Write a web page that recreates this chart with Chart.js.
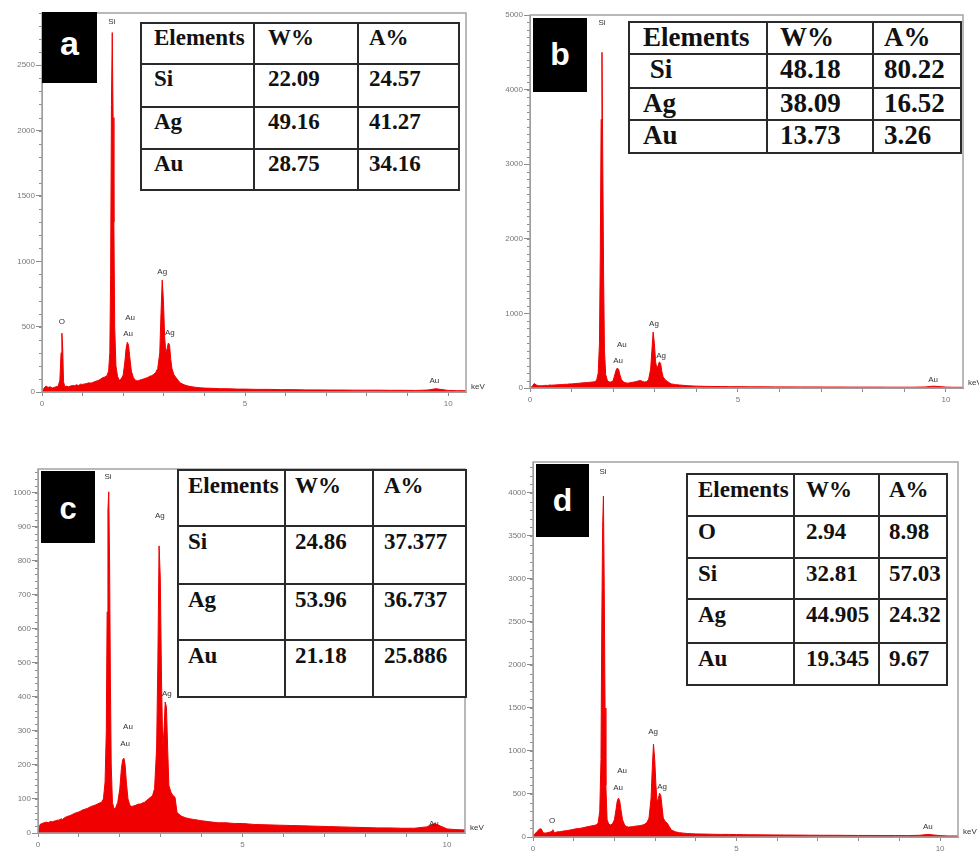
<!DOCTYPE html>
<html>
<head>
<meta charset="utf-8">
<script src="https://cdn.jsdelivr.net/npm/chart.js@4.4.0/dist/chart.umd.min.js"></script>
<style>
  body { margin: 0; background: #fff; }
  #page { position: relative; width: 979px; height: 854px; overflow: hidden; background: #fff; }
  canvas { position: absolute; }
  .tag { position: absolute; background: #000; color: #fff; text-align: center;
         font-family: "Liberation Sans", Arial, sans-serif; font-weight: bold; }
  table.el { position: absolute; border-collapse: collapse; table-layout: fixed; background: #fff;
             font-family: "Liberation Serif", "Times New Roman", serif; font-weight: bold; color: #111; }
  table.el td { border: 2px solid #2a2a2a; vertical-align: top; line-height: 1; white-space: nowrap;
                overflow: hidden; padding: 0; }
</style>
</head>
<body>
<div id="page">
  <canvas id="specA" width="490" height="420" style="left:0;top:0"></canvas>
  <canvas id="specB" width="489" height="420" style="left:490px;top:0"></canvas>
  <canvas id="specC" width="490" height="414" style="left:0;top:440px"></canvas>
  <canvas id="specD" width="489" height="414" style="left:490px;top:440px"></canvas>
</div>
<script>
// ######### data - EDS spectra (counts vs keV)
// ###########################################

const energy = [
  0.00, 0.05, 0.10, 0.15, 0.20, 0.25, 0.30, 0.35, 0.40, 0.44,
  0.47, 0.49, 0.51, 0.53, 0.56, 0.60, 0.65, 0.70, 0.75, 0.80,
  0.85, 0.90, 0.95, 1.00, 1.05, 1.10, 1.15, 1.20, 1.25, 1.30,
  1.35, 1.40, 1.45, 1.50, 1.55, 1.60, 1.64, 1.67, 1.69, 1.71,
  1.73, 1.75, 1.77, 1.79, 1.82, 1.86, 1.90, 1.95, 2.00, 2.04,
  2.07, 2.10, 2.13, 2.16, 2.20, 2.25, 2.30, 2.35, 2.40, 2.45,
  2.50, 2.55, 2.60, 2.65, 2.70, 2.75, 2.80, 2.85, 2.90, 2.93,
  2.96, 2.99, 3.02, 3.05, 3.08, 3.11, 3.14, 3.17, 3.20, 3.25,
  3.30, 3.35, 3.40, 3.50, 3.60, 3.70, 3.80, 3.90, 4.00, 4.20,
  4.40, 4.60, 4.80, 5.00, 5.30, 5.60, 5.90, 6.20, 6.50, 6.80,
  7.10, 7.40, 7.70, 8.00, 8.30, 8.60, 8.90, 9.20, 9.50, 9.70,
  10.00, 10.20, 10.45
];

const countsA = [
  0, 30, 45, 35, 40, 30, 35, 40, 45, 90,
  300, 450, 330, 80, 40, 45, 40, 45, 50, 48,
  55, 50, 60, 58, 62, 65, 70, 68, 72, 80,
  85, 90, 100, 110, 115, 125, 160, 300, 900, 2200,
  2750, 2100, 1300, 500, 200, 120, 90, 100, 130, 230,
  330, 380, 360, 270, 160, 110, 90, 85, 90, 95,
  100, 105, 110, 120, 125, 135, 150, 180, 300, 600,
  856, 700, 420, 300, 330, 375, 360, 250, 180, 130,
  110, 90, 70, 55, 45, 40, 35, 32, 30, 28,
  25, 25, 22, 22, 20, 20, 18, 18, 16, 16,
  15, 15, 14, 14, 14, 13, 13, 12, 15, 25,
  12, 10, 10
];

const countsB = [
  0, 20, 60, 40, 30, 30, 30, 35, 35, 35,
  40, 40, 38, 38, 40, 40, 42, 45, 45, 48,
  50, 50, 55, 55, 58, 60, 62, 65, 68, 70,
  72, 75, 78, 80, 85, 100, 200, 600, 1800, 3600,
  4500, 3000, 1500, 500, 180, 100, 80, 80, 100, 180,
  240, 268, 250, 180, 110, 80, 70, 65, 70, 75,
  80, 85, 95, 100, 90, 80, 85, 110, 250, 500,
  750, 600, 350, 260, 300, 350, 330, 220, 150, 110,
  90, 70, 55, 45, 40, 35, 30, 28, 25, 22,
  20, 20, 18, 18, 16, 16, 15, 15, 14, 14,
  13, 13, 12, 12, 12, 11, 11, 11, 14, 25,
  12, 10, 10
];

const countsC = [
  0, 25, 28, 30, 32, 30, 34, 33, 35, 36,
  38, 36, 40, 38, 42, 40, 45, 48, 50, 52,
  55, 58, 60, 62, 65, 68, 70, 72, 75, 78,
  80, 82, 85, 88, 90, 100, 150, 300, 650, 950,
  1003, 800, 450, 200, 90, 70, 75, 90, 130, 190,
  215, 220, 200, 150, 100, 80, 78, 80, 82, 85,
  85, 88, 90, 95, 100, 105, 110, 130, 250, 500,
  844, 750, 450, 250, 300, 385, 370, 250, 140, 120,
  110, 105, 60, 50, 45, 42, 40, 38, 36, 33,
  30, 30, 28, 28, 25, 24, 23, 22, 21, 20,
  19, 18, 17, 16, 15, 15, 14, 14, 18, 28,
  12, 10, 9
];

const countsD = [
  0, 40, 60, 90, 95, 50, 45, 50, 55, 60,
  70, 85, 65, 50, 55, 60, 62, 65, 70, 72,
  75, 80, 85, 90, 95, 98, 100, 105, 110, 115,
  120, 125, 130, 135, 140, 160, 300, 900, 2500, 3600,
  3965, 2900, 1500, 600, 200, 150, 140, 150, 200, 320,
  420, 453, 420, 320, 200, 140, 120, 115, 118, 120,
  125, 128, 130, 135, 140, 150, 170, 220, 450, 800,
  1080, 900, 600, 400, 450, 510, 480, 350, 220, 180,
  160, 120, 80, 60, 50, 45, 40, 38, 36, 34,
  32, 30, 30, 28, 26, 25, 24, 23, 22, 21,
  20, 20, 19, 18, 18, 17, 17, 16, 20, 30,
  16, 12, 12
];

// axis ticks
const keVTicks = [0, 1, 2, 3, 4, 5, 6, 7, 8, 9, 10];
const keVLabels = ['0', '', '', '', '', '5', '', '', '', '', '10'];
const yTicksA = [0, 500, 1000, 1500, 2000, 2500];
const yTicksB = [0, 1000, 2000, 3000, 4000, 5000];
const yTicksC = [0, 100, 200, 300, 400, 500, 600, 700, 800, 900, 1000];
const yTicksD = [0, 500, 1000, 1500, 2000, 2500, 3000, 3500, 4000];

// peak names: element, energy (keV), counts level of the label
const peaksA = [['Si', 1.72, 2829], ['O', 0.49, 535], ['Au', 2.17, 566], ['Au', 2.12, 443],
                ['Ag', 2.96, 917], ['Ag', 3.15, 451], ['Au', 9.66, 84]];
const peaksB = [['Si', 1.73, 4891], ['Au', 2.21, 576], ['Au', 2.12, 362],
                ['Ag', 2.98, 858], ['Ag', 3.15, 429], ['Au', 9.69, 107]];
const peaksC = [['Si', 1.71, 1047], ['Ag', 2.98, 932], ['Au', 2.20, 312], ['Au', 2.13, 262],
                ['Ag', 3.15, 409], ['Au', 9.68, 26]];
const peaksD = [['Si', 1.72, 4245], ['Au', 2.19, 768], ['Au', 2.09, 570], ['Ag', 2.95, 1221],
                ['Ag', 3.17, 581], ['O', 0.47, 186], ['Au', 9.70, 116]];

// composition tables
const tableA = [['Elements', 'W%', 'A%'], ['Si', '22.09', '24.57'], ['Ag', '49.16', '41.27'], ['Au', '28.75', '34.16']];
const tableB = [['Elements', 'W%', 'A%'], ['\u00a0Si', '48.18', '80.22'], ['Ag', '38.09', '16.52'], ['Au', '13.73', '3.26']];
const tableC = [['Elements', 'W%', 'A%'], ['Si', '24.86', '37.377'], ['Ag', '53.96', '36.737'], ['Au', '21.18', '25.886']];
const tableD = [['Elements', 'W%', 'A%'], ['O', '2.94', '8.98'], ['Si', '32.81', '57.03'], ['Ag', '44.905', '24.32'], ['Au', '19.345', '9.67']];


// ######### plugin - frame, minor ticks, peak names, unit
// ###########################################

const decor = {
  id: 'decor',
  afterDraw(chart, args, o) {
    const ctx = chart.ctx;
    const a = chart.chartArea;
    const x = chart.scales.x, y = chart.scales.y;
    ctx.save();
    ctx.strokeStyle = '#8c8c8c';
    ctx.lineWidth = 1;
    ctx.beginPath();
    for (let v = 0; v <= y.max; v += o.minor) {
      const py = Math.round(y.getPixelForValue(v)) + 0.5;
      ctx.moveTo(a.left - 3, py);
      ctx.lineTo(a.left, py);
    }
    ctx.stroke();

    ctx.strokeStyle = '#a3a3a3';
    ctx.lineWidth = 1.5;
    ctx.strokeRect(a.left, a.top, a.right - a.left, a.bottom - a.top);

    ctx.fillStyle = '#333';
    ctx.font = '8px "Liberation Sans", Arial, sans-serif';
    ctx.textAlign = 'center';
    ctx.textBaseline = 'middle';
    o.peaks.forEach(p => ctx.fillText(p[0], x.getPixelForValue(p[1]), y.getPixelForValue(p[2])));

    ctx.textAlign = 'left';
    ctx.fillText('keV', a.right + 5, a.bottom - 5);
    ctx.restore();
  }
};


// ######### charts
// ###########################################

function spectrum(id, counts, peaks, yTicks, p) {
  const ctx = document.getElementById(id).getContext('2d');
  return new Chart(ctx, {
    type: 'line',
    data: {
      datasets: [{
        data: energy.map((e, i) => ({ x: e, y: counts[i] })),
        borderColor: '#f00000',
        backgroundColor: '#f00000',
        borderWidth: 1,
        pointRadius: 0,
        fill: 'origin',
        tension: 0
      }]
    },
    options: {
      responsive: false,
      animation: false,
      layout: { padding: { top: p.top, right: p.right, left: 0, bottom: 0 } },
      plugins: {
        legend: { display: false },
        tooltip: { enabled: false },
        decor: { minor: p.minor, peaks: peaks }
      },
      scales: {
        x: {
          type: 'linear', min: 0, max: p.xMax,
          afterBuildTicks: s => { s.ticks = keVTicks.map(v => ({ value: v })); },
          ticks: {
            autoSkip: false, maxRotation: 0, color: '#777', padding: 3,
            font: { size: 8, family: '"Liberation Sans", Arial, sans-serif' },
            callback: (v, i) => keVLabels[i]
          },
          grid: { drawOnChartArea: false, tickLength: 4, color: '#8c8c8c' },
          border: { color: '#8c8c8c' },
          afterFit: s => { s.height = p.xh; }
        },
        y: {
          min: 0, max: p.yMax,
          afterBuildTicks: s => { s.ticks = yTicks.map(v => ({ value: v })); },
          ticks: {
            autoSkip: false, color: '#777', padding: 1,
            font: { size: 8, family: '"Liberation Sans", Arial, sans-serif' },
            callback: v => String(v)
          },
          grid: { drawOnChartArea: false, tickLength: 6, color: '#8c8c8c' },
          border: { color: '#8c8c8c' },
          afterFit: s => { s.width = p.yw; }
        }
      }
    },
    plugins: [decor]
  });
}

spectrum('specA', countsA, peaksA, yTicksA, { top: 13, right: 24, yw: 42, xh: 28, yMax: 2900, minor: 100, xMax: 10.44 });
spectrum('specB', countsB, peaksB, yTicksB, { top: 15, right: 16, yw: 40, xh: 32, yMax: 5000, minor: 100, xMax: 10.41 });
spectrum('specC', countsC, peaksC, yTicksC, { top: 29, right: 25, yw: 38, xh: 21, yMax: 1070, minor: 20, xMax: 10.44 });
spectrum('specD', countsD, peaksD, yTicksD, { top: 22, right: 21, yw: 43, xh: 17, yMax: 4360, minor: 100, xMax: 10.44 });


// ######### tables and panel letters
// ###########################################

const page = document.getElementById('page');

function addTable(rows, b) {
  const t = document.createElement('table');
  t.className = 'el';
  t.style.left = b.left + 'px';
  t.style.top = b.top + 'px';
  t.style.width = b.cols.reduce((s, w) => s + w, 0) + 'px';
  t.style.fontSize = b.font + 'px';
  const cg = document.createElement('colgroup');
  b.cols.forEach(w => {
    const c = document.createElement('col');
    c.style.width = w + 'px';
    cg.appendChild(c);
  });
  t.appendChild(cg);
  rows.forEach((r, i) => {
    const tr = t.insertRow();
    tr.style.height = b.rows[i] + 'px';
    r.forEach((txt, j) => {
      const td = tr.insertCell();
      td.textContent = txt;
      td.style.paddingLeft = b.padL[j] + 'px';
      td.style.paddingTop = b.padT + 'px';
    });
  });
  page.appendChild(t);
}

addTable(tableA, { left: 140, top: 22, cols: [113, 104, 101], rows: [41, 43, 42, 41], font: 23, padL: [12, 13, 10], padT: 2 });
addTable(tableB, { left: 628, top: 21, cols: [138, 106, 88], rows: [32, 34, 32, 33], font: 27, padL: [13, 12, 10], padT: 1 });
addTable(tableC, { left: 177, top: 469, cols: [107, 88, 93], rows: [56, 58, 56, 57], font: 23, padL: [9, 9, 10], padT: 3 });
addTable(tableD, { left: 686, top: 473, cols: [107, 85, 68], rows: [42, 42, 41, 44, 42], font: 23, padL: [10, 11, 9], padT: 3 });

function addTag(letter, b) {
  const d = document.createElement('div');
  d.className = 'tag';
  d.textContent = letter;
  d.style.left = b.left + 'px';
  d.style.top = b.top + 'px';
  d.style.width = b.w + 'px';
  d.style.height = b.h + 'px';
  d.style.fontSize = b.font + 'px';
  d.style.lineHeight = b.lh + 'px';
  page.appendChild(d);
}

addTag('a', { left: 42, top: 12, w: 55, h: 71, font: 34, lh: 62 });
addTag('b', { left: 533, top: 18, w: 54, h: 74, font: 32, lh: 72 });
addTag('c', { left: 41, top: 471, w: 54, h: 72, font: 31, lh: 76 });
addTag('d', { left: 536, top: 464, w: 53, h: 73, font: 32, lh: 72 });
</script>
</body>
</html>
